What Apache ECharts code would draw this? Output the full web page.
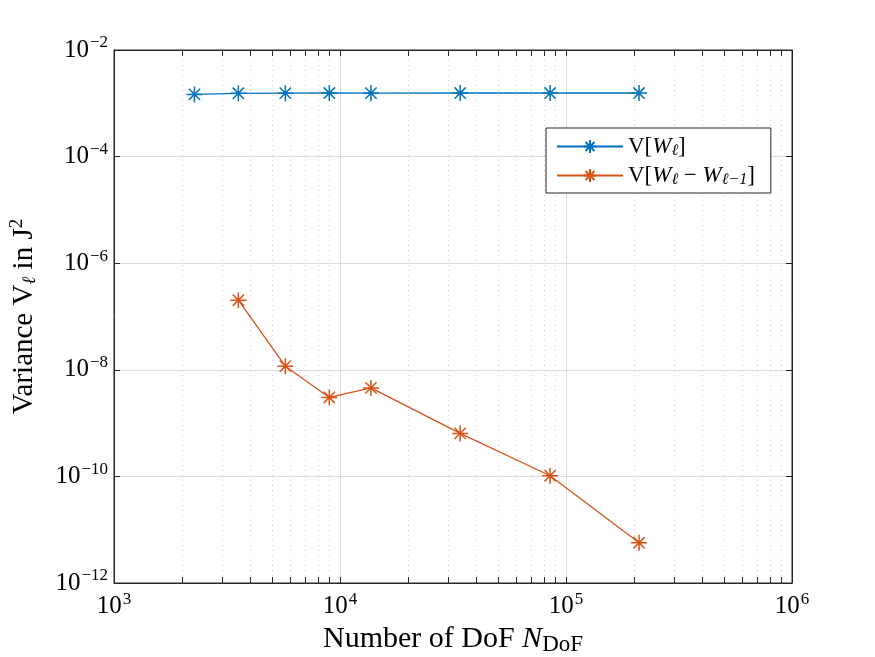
<!DOCTYPE html>
<html>
<head>
<meta charset="utf-8">
<script src="https://cdn.jsdelivr.net/npm/echarts@6/dist/echarts.min.js"></script>
<style>html,body{margin:0;padding:0;background:#fff}#c{width:875px;height:657px}</style>
</head>
<body>
<div id="c"></div>
<script>
const dofs = [2270, 3550, 5730, 8970, 13710, 34020, 85050, 210500];
const varW = [1.47e-3, 1.54e-3, 1.55e-3, 1.56e-3, 1.55e-3, 1.56e-3, 1.56e-3, 1.56e-3];
const dofsDiff = [3550, 5730, 8970, 13710, 34020, 85050, 210500];
const varDiff = [2.02e-7, 1.17e-8, 3.03e-9, 4.58e-9, 6.4e-10, 1.03e-10, 5.69e-12];
const seriesNames = ['V[W_l]', 'V[W_l - W_l-1]'];

const FONT = 'Liberation Serif';
const blue = '#0072BD', orange = '#D95319';
const star = 'path://M0,-10L0,10M-10,0L10,0M-7.07,-7.07L7.07,7.07M-7.07,7.07L7.07,-7.07';

function expLabel(v) {
  const e = Math.round(Math.log10(v));
  const es = e < 0 ? '\u2212' + (-e) : String(e);
  return '{b|10}{e|' + es + '}';
}
const labelRich = {
  b: {fontFamily: FONT, fontSize: 25, color: '#000'},
  e: {fontFamily: FONT, fontSize: 17, color: '#000', padding: [0, 0, 14, 1]}
};

const chart = echarts.init(document.getElementById('c'), null, {renderer: 'canvas'});
const gridLine = {show: true, lineStyle: {color: '#dcdcdc', width: 1}};
const minorLine = {show: true, lineStyle: {color: '#cfcfcf', width: 1, type: [1, 4]}};
const axisLineS = {show: true, lineStyle: {color: '#262626', width: 1}};

chart.setOption({
  animation: false,
  backgroundColor: '#fff',
  grid: {left: 114, right: 83, top: 50, bottom: 74, show: true, borderColor: '#262626', borderWidth: 1,
         containLabel: false, outerBoundsMode: 'none'},
  xAxis: [{
    type: 'log', min: 1e3, max: 1e6, interval: 1, position: 'bottom',
    axisLine: axisLineS,
    axisTick: {show: true, inside: true, length: 6, lineStyle: {color: '#262626'}},
    minorTick: {show: true, splitNumber: 9, length: 6, lineStyle: {color: '#262626'}},
    splitLine: gridLine,
    minorSplitLine: minorLine,
    axisLabel: {formatter: expLabel, rich: labelRich, margin: 8},
    name: 'Number of DoF {i|N}{s|DoF}', nameLocation: 'middle', nameGap: 40,
    nameTextStyle: {fontFamily: FONT, fontSize: 30, color: '#000',
      rich: {i: {fontFamily: FONT, fontSize: 30, fontStyle: 'italic', color: '#000'},
             s: {fontFamily: FONT, fontSize: 23, color: '#000', padding: [10, 0, 0, 0]}}}
  }, {
    type: 'log', min: 1e3, max: 1e6, interval: 1, position: 'top',
    axisLine: axisLineS,
    axisTick: {show: true, inside: true, length: 6, lineStyle: {color: '#262626'}},
    minorTick: {show: true, splitNumber: 9, length: 6, lineStyle: {color: '#262626'}},
    splitLine: {show: false}, axisLabel: {show: false}
  }],
  yAxis: [{
    type: 'log', min: 1e-12, max: 1e-2, interval: 2, position: 'left',
    axisLine: axisLineS,
    axisTick: {show: true, inside: true, length: 6, lineStyle: {color: '#262626'}},
    splitLine: gridLine,
    axisLabel: {formatter: expLabel, rich: labelRich, margin: 6},
    name: 'Variance V{s|\u2113} in J{p|2}', nameLocation: 'middle', nameGap: 73, nameRotate: 90,
    nameTextStyle: {fontFamily: FONT, fontSize: 29, color: '#000',
      rich: {s: {fontFamily: FONT, fontSize: 19, fontStyle: 'italic', color: '#000', padding: [10, 0, 0, 0]},
             p: {fontFamily: FONT, fontSize: 19, color: '#000', padding: [0, 0, 14, 0]}}}
  }, {
    type: 'log', min: 1e-12, max: 1e-2, interval: 2, position: 'right',
    axisLine: axisLineS,
    axisTick: {show: true, inside: true, length: 6, lineStyle: {color: '#262626'}},
    splitLine: {show: false}, axisLabel: {show: false}
  }],
  legend: {
    left: 546, top: 128, orient: 'vertical',
    backgroundColor: '#fff', borderColor: '#262626', borderWidth: 1,
    padding: [7, 16, 5, 10], itemGap: 5, itemWidth: 66, itemHeight: 16,
    data: seriesNames,
    formatter: function (n) {
      return n === seriesNames[0]
        ? 'V[{i|W}{s|\u2113}]'
        : 'V[{i|W}{s|\u2113} \u2212 {i|W}{s|\u2113\u22121}]';
    },
    textStyle: {fontFamily: FONT, fontSize: 23, color: '#000',
      rich: {i: {fontFamily: FONT, fontSize: 23, fontStyle: 'italic', color: '#000'},
             s: {fontFamily: FONT, fontSize: 16, fontStyle: 'italic', color: '#000', padding: [9, 0, 0, 0]}}}
  },
  series: [{
    name: seriesNames[0], type: 'line',
    data: dofs.map((d, i) => [d, varW[i]]),
    symbol: star, symbolSize: 16,
    itemStyle: {color: 'rgba(0,0,0,0)', borderColor: blue, borderWidth: 1.5},
    lineStyle: {color: blue, width: 1.3}
  }, {
    name: seriesNames[1], type: 'line',
    data: dofsDiff.map((d, i) => [d, varDiff[i]]),
    symbol: star, symbolSize: 16,
    itemStyle: {color: 'rgba(0,0,0,0)', borderColor: orange, borderWidth: 1.5},
    lineStyle: {color: orange, width: 1.3}
  }]
});
</script>
</body>
</html>
